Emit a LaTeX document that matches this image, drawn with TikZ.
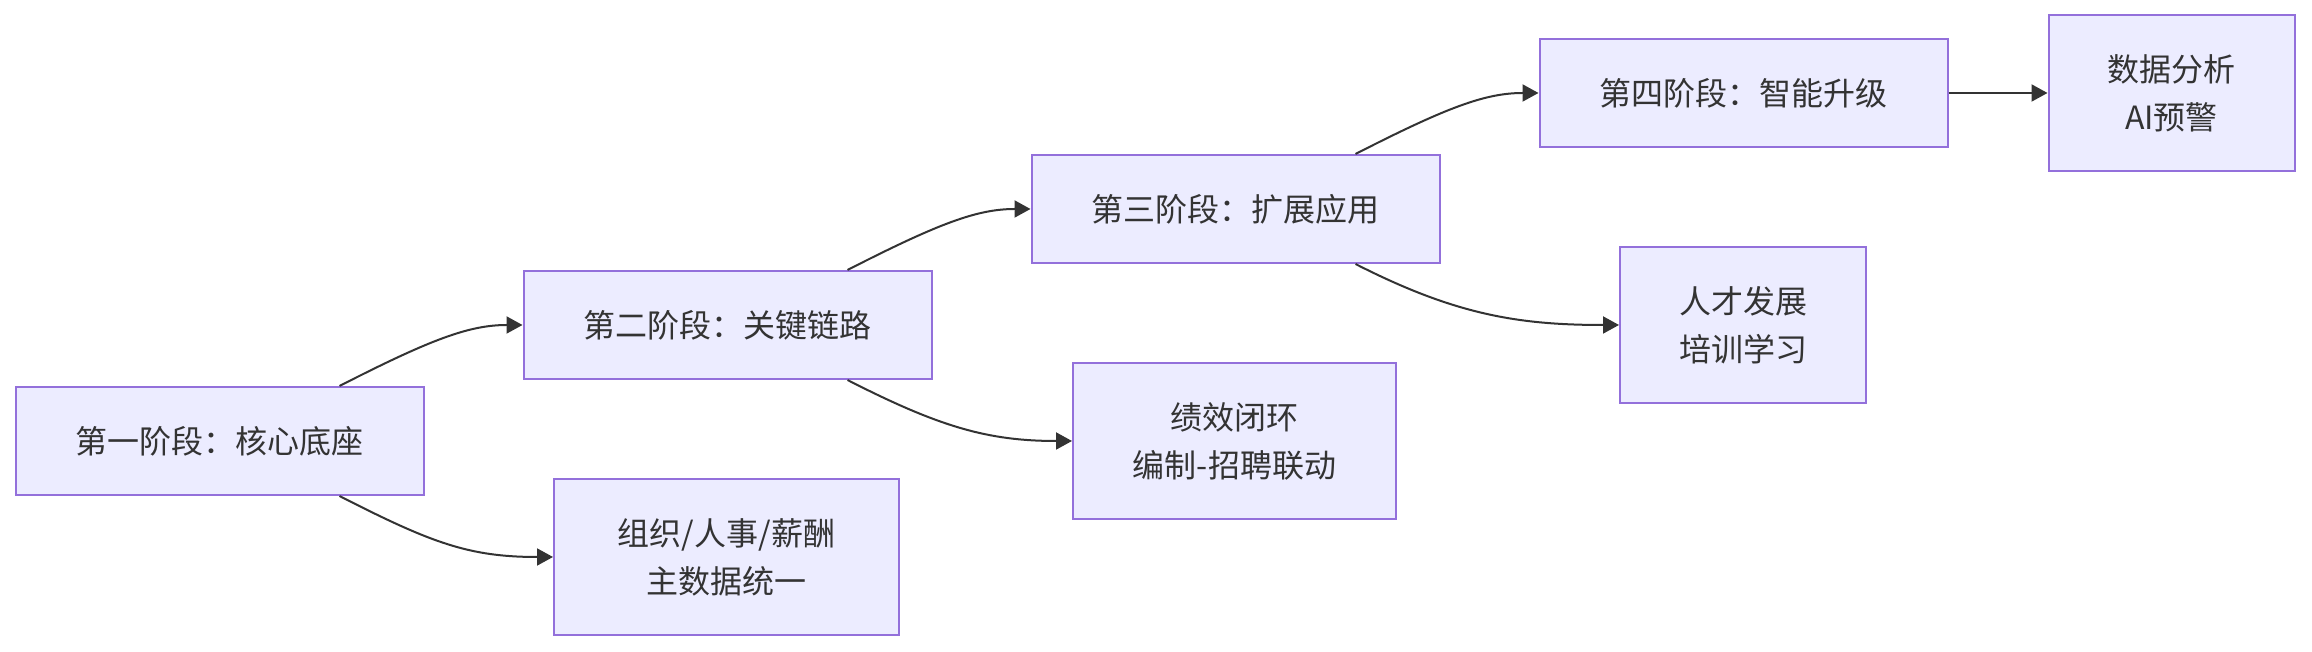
\documentclass[tikz,border=0pt]{standalone}
\usepackage{fontspec}
\setmainfont{Noto Sans CJK SC}
\usepackage{xcolor}
\definecolor{mmfill}{HTML}{ECECFF}
\definecolor{mmstroke}{HTML}{9370DB}
\definecolor{mmtext}{HTML}{333333}
\usepackage{tikz}
\usetikzlibrary{arrows.meta}

\tikzset{
  stagebox/.style={draw=mmstroke, fill=mmfill, line width=2pt, text=mmtext,
    font=\fontsize{32}{48}\selectfont, align=center,
    minimum width=408pt, minimum height=108pt, inner xsep=0pt},
  itembox/.style={draw=mmstroke, fill=mmfill, line width=2pt, text=mmtext,
    font=\fontsize{32}{48}\selectfont, align=center,
    minimum height=156pt, inner xsep=59pt},
  flow/.style={draw=mmtext, line width=2pt,
    -{Triangle[length=16pt,width=17pt]}}
}

\begin{document}
\begin{tikzpicture}[x=1pt, y=1pt]
  \useasboundingbox (0,0) rectangle (2312,652);

  % Stages
  \node[stagebox] (P1) at (219.5,211) {第一阶段：核心底座};
  \node[stagebox] (P2) at (727.5,327) {第二阶段：关键链路};
  \node[stagebox] (P3) at (1235.5,443) {第三阶段：扩展应用};
  \node[stagebox] (P4) at (1743.5,559) {第四阶段：智能升级};

  % Items of each stage
  \node[itembox, minimum width=345pt] (M1) at (726.5,95) {组织/人事/薪酬\\主数据统一};
  \node[itembox, minimum width=323pt] (M2) at (1234.5,211) {绩效闭环\\编制-招聘联动};
  \node[itembox] (M3) at (1743,327) {人才发展\\培训学习};
  \node[itembox] (M4) at (2171.5,559) {数据分析\\AI预警};

  % Stage to next stage
  \draw[flow] ([xshift=120pt]P1.north) .. controls +(92,47) and +(-53,0) .. (P2.west);
  \draw[flow] ([xshift=120pt]P2.north) .. controls +(92,47) and +(-53,0) .. (P3.west);
  \draw[flow] ([xshift=120pt]P3.north) .. controls +(92,47) and +(-53,0) .. (P4.west);

  % Stage to its items
  \draw[flow] ([xshift=120pt]P1.south) .. controls +(92,-47) and +(-84,0) .. (M1.west);
  \draw[flow] ([xshift=120pt]P2.south) .. controls +(92,-47) and +(-84,0) .. (M2.west);
  \draw[flow] ([xshift=120pt]P3.south) .. controls +(100,-51) and +(-100,0) .. (M3.west);
  \draw[flow] (P4) -- (M4);
\end{tikzpicture}
\end{document}
